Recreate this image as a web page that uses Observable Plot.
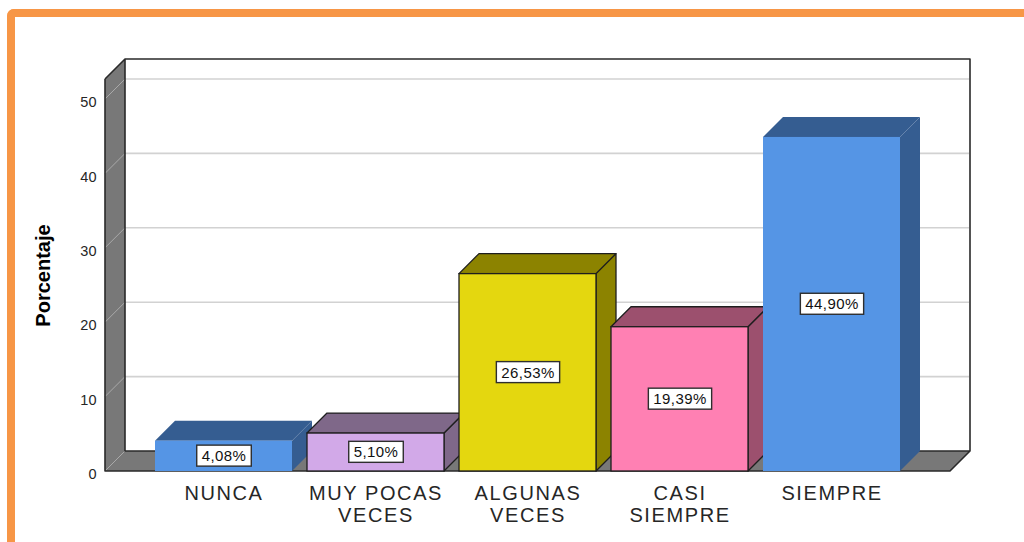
<!DOCTYPE html>
<html><head><meta charset="utf-8">
<script src="https://cdn.jsdelivr.net/npm/d3@7"></script>
<script src="https://cdn.jsdelivr.net/npm/@observablehq/plot@0.6"></script>
<style>
html,body{margin:0;padding:0;background:#fff;}
#wrap{position:relative;width:1024px;height:542px;overflow:hidden;}
#frame{position:absolute;left:7px;top:9px;right:-20px;bottom:-20px;border-top:8px solid #F79646;border-left:8px solid #F79646;border-top-left-radius:7px;pointer-events:none;}
#chart svg{display:block;}
g[aria-label="x-axis tick label"] text{letter-spacing:1.6px;}
</style></head><body>
<div id="wrap"><div id="chart"></div><div id="frame"></div></div>
<script>
const categories = ["NUNCA", "MUY POCAS VECES", "ALGUNAS VECES", "CASI SIEMPRE", "SIEMPRE"];
const tickLabels = ["NUNCA", "MUY POCAS\nVECES", "ALGUNAS\nVECES", "CASI\nSIEMPRE", "SIEMPRE"];
const percentages = [4.08, 5.10, 26.53, 19.39, 44.90];
const valueLabels = ["4,08%", "5,10%", "26,53%", "19,39%", "44,90%"];
const yTicks = [0, 10, 20, 30, 40, 50];
const frontColors = ["#5595E5", "#D2A9E8", "#E4D70F", "#FF80B3", "#5595E5"];
const darkColors = ["#355D91", "#7F6889", "#8C8300", "#9C506E", "#355D91"];
const edgeColors = ["none", "#1e1e1e", "#1e1e1e", "#1e1e1e", "none"];

const data = categories.map((c, i) => ({
  category: c, value: percentages[i], label: valueLabels[i],
  front: frontColors[i], dark: darkColors[i], edge: edgeColors[i]
}));

const D = 20; // depth in pixels
const WALL = "#787878";

function bandwidthOf(x) { return typeof x.bandwidth === "function" ? x.bandwidth() : x.bandwidth; }

function walls(index, scales, values, dims) {
  const y = scales.y;
  const L = dims.marginLeft, R = dims.width - dims.marginRight;
  const T = dims.marginTop, B = dims.height - dims.marginBottom;
  const g = d3.create("svg:g");
  g.append("rect").attr("x", L + D).attr("y", T - D).attr("width", R - L).attr("height", B - T).attr("fill", "#fff");
  for (const t of yTicks) if (t > 0) {
    g.append("line").attr("x1", L + D).attr("x2", R + D - 1).attr("y1", y(t) - D).attr("y2", y(t) - D)
      .attr("stroke", "#d2d2d2").attr("stroke-width", 1.6);
  }
  const pts = a => a.map(p => p.join(",")).join(" ");
  g.append("polygon").attr("points", pts([[L, T], [L + D, T - D], [L + D, B - D], [L, B]])).attr("fill", WALL);
  g.append("polygon").attr("points", pts([[L, B], [L + D, B - D], [R + D, B - D], [R, B]])).attr("fill", WALL);
  for (const t of yTicks) {
    g.append("line").attr("x1", L).attr("y1", y(t)).attr("x2", L + D).attr("y2", y(t) - D)
      .attr("stroke", "#a9a9a9").attr("stroke-width", 1);
  }
  g.append("path")
    .attr("d", `M${L},${T}L${L},${B}L${R},${B}L${R + D},${B - D}L${R + D},${T - D}L${L + D},${T - D}L${L},${T}M${L + D},${T - D}L${L + D},${B - D}L${R + D},${B - D}`)
    .attr("fill", "none").attr("stroke", "#2a2a2a").attr("stroke-width", 1.6).attr("stroke-linejoin", "round");
  return g.node();
}

function bars3d(index, scales) {
  const {x, y} = scales;
  const bw = bandwidthOf(x);
  const g = d3.create("svg:g");
  const pts = a => a.map(p => p.join(",")).join(" ");
  for (const d of data) {
    const x0 = x(d.category), x1 = x0 + bw, yt = y(d.value), yb = y(0);
    g.append("polygon").attr("points", pts([[x1, yt], [x1 + D, yt - D], [x1 + D, yb - D], [x1, yb]]))
      .attr("fill", d.dark).attr("stroke", d.edge).attr("stroke-width", 1.3).attr("stroke-linejoin", "round");
    g.append("polygon").attr("points", pts([[x0, yt], [x0 + D, yt - D], [x1 + D, yt - D], [x1, yt]]))
      .attr("fill", d.dark).attr("stroke", d.edge).attr("stroke-width", 1.3).attr("stroke-linejoin", "round");
  }
  return g.node();
}

const chart = Plot.plot({
  width: 1024, height: 542,
  marginLeft: 105, marginRight: 74, marginTop: 79, marginBottom: 71,
  style: {fontFamily: "'Liberation Sans', Arial, sans-serif", color: "#262626", background: "transparent"},
  x: {type: "band", domain: categories, range: [147.5, 907.5], paddingInner: 0.1, paddingOuter: 0.05},
  y: {domain: [0, 50], range: [471, 99]},
  color: {type: "identity"},
  marks: [
    walls,
    bars3d,
    Plot.barY(data, {x: "category", y: "value", fill: "front", stroke: "edge", strokeWidth: 1.3}),
    Plot.text(data, {x: "category", y: d => d.value / 2, text: "label", fontSize: 15, fill: "#111"}),
    Plot.axisX({tickSize: 0, tickPadding: 13, fontSize: 20, lineHeight: 1.1, label: null,
      tickFormat: c => tickLabels[categories.indexOf(c)]}),
    Plot.axisY({ticks: yTicks, tickSize: 0, tickPadding: 9, fontSize: 14.5, dy: 3, label: null, tickFormat: d => String(d)}),
    Plot.text(["Porcentaje"], {frameAnchor: "left", text: d => d, rotate: -90, dx: -62, textAnchor: "middle",
      lineAnchor: "middle", fontSize: 20, fontWeight: "bold", fill: "#000"})
  ]
});
document.getElementById("chart").appendChild(chart);

// white boxes behind value labels
chart.querySelectorAll("text").forEach(t => {
  if (!valueLabels.includes(t.textContent)) return;
  t.setAttribute("letter-spacing", "0.4");
  const b = t.getBBox();
  const r = document.createElementNS("http://www.w3.org/2000/svg", "rect");
  r.setAttribute("x", b.x - 5);
  r.setAttribute("y", b.y - 2);
  r.setAttribute("width", b.width + 10);
  r.setAttribute("height", b.height + 4);
  r.setAttribute("fill", "#fff");
  r.setAttribute("stroke", "#2e2e2e");
  r.setAttribute("stroke-width", 1.4);
  const tr = t.getAttribute("transform");
  if (tr) r.setAttribute("transform", tr);
  t.parentNode.insertBefore(r, t);
});
</script>
</body></html>
